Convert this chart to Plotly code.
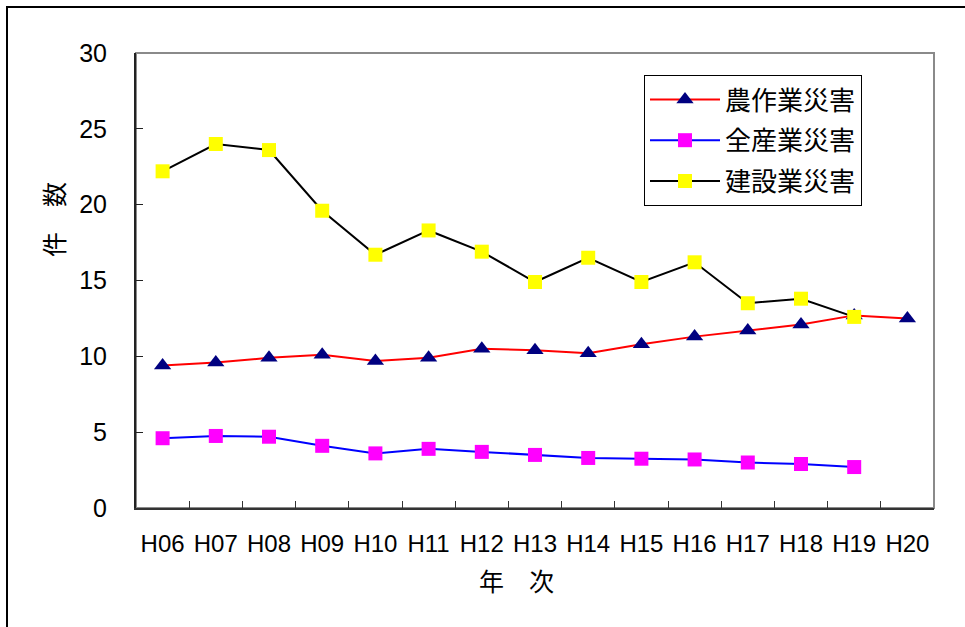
import plotly.graph_objects as go

# 年次（平成）
years = ["H06", "H07", "H08", "H09", "H10", "H11", "H12", "H13", "H14",
         "H15", "H16", "H17", "H18", "H19", "H20"]

# 農作業災害（H06〜H20）
agri = [9.4, 9.6, 9.9, 10.1, 9.7, 9.9, 10.5, 10.4, 10.2, 10.8, 11.3,
        11.7, 12.1, 12.7, 12.5]
# 全産業災害（H06〜H19）
all_ind = [4.6, 4.75, 4.7, 4.1, 3.6, 3.9, 3.7, 3.5, 3.3, 3.25, 3.2, 3.0,
           2.9, 2.7]
# 建設業災害（H06〜H19）
constr = [22.2, 24.0, 23.6, 19.6, 16.7, 18.3, 16.9, 14.9, 16.5, 14.9,
          16.2, 13.5, 13.8, 12.6]

series_names = ["農作業災害", "全産業災害", "建設業災害"]

CJK = "Noto Sans CJK JP, Noto Sans CJK SC, sans-serif"
NUM = "Liberation Sans, Arial, sans-serif"

fig = go.Figure()
fig.add_trace(go.Scatter(
    x=years, y=agri, name=series_names[0], mode="lines+markers",
    line=dict(color="#FF0000", width=2),
    marker=dict(symbol="triangle-up", size=15, color="#000080"),
    legendgroup="a"))
fig.add_trace(go.Scatter(
    x=years[:len(all_ind)], y=all_ind, name=series_names[1],
    mode="lines+markers",
    line=dict(color="#0000FF", width=2),
    marker=dict(symbol="square", size=14, color="#FF00FF"),
    legendgroup="b"))
fig.add_trace(go.Scatter(
    x=years[:len(constr)], y=constr, name=series_names[2],
    mode="lines+markers",
    line=dict(color="#000000", width=2),
    marker=dict(symbol="square", size=14, color="#FFFF00"),
    legendgroup="c"))

L, R, T, B = 136, 31, 53, 119
W, H = 965, 627
pw, ph = W - L - R, H - T - B


def px(xp):
    return (xp - L) / pw


def py(yp):
    return (H - B - yp) / ph


fig.update_layout(
    width=W, height=H,
    margin=dict(l=L, r=R, t=T, b=B, pad=0),
    paper_bgcolor="white", plot_bgcolor="white",
    showlegend=True,
    legend=dict(
        x=px(644), y=py(75), xanchor="left", yanchor="top",
        bgcolor="white", bordercolor="#000000", borderwidth=1,
        font=dict(family=CJK, size=26, color="#000000"),
        itemwidth=70, tracegroupgap=4, traceorder="grouped",
    ),
    xaxis=dict(
        type="category", range=[-0.5, len(years) - 0.5],
        showline=True, linecolor="#333333", linewidth=2,
        ticks="inside", ticklen=7, tickcolor="#333333", tickwidth=1,
        tickson="boundaries", showgrid=False, zeroline=False,
        tickangle=0,
        tickfont=dict(family=NUM, size=24, color="#000000"),
        ticklabelstandoff=13,
    ),
    yaxis=dict(
        range=[0, 30], dtick=5, tick0=0,
        showline=True, linecolor="#222222", linewidth=2,
        ticks="inside", ticklen=7, tickcolor="#222222", tickwidth=1,
        showgrid=False, zeroline=False,
        tickfont=dict(family=NUM, size=25, color="#000000"),
        ticklabelstandoff=22,
    ),
    annotations=[
        dict(text="件　数", xref="paper", yref="paper", x=px(53), y=py(220),
             xanchor="center", yanchor="middle",
             showarrow=False, textangle=-90,
             font=dict(family=CJK, size=25, color="#000000")),
        dict(text="年　次", xref="paper", yref="paper", x=px(516), y=py(580),
             xanchor="center", yanchor="middle",
             showarrow=False,
             font=dict(family=CJK, size=25, color="#000000")),
    ],
    shapes=[
        # plot area frame (top/right in grey)
        dict(type="rect", xref="paper", yref="paper", x0=0, y0=0, x1=1, y1=1,
             line=dict(color="#8a8a8a", width=2), layer="below"),
        # outer chart frame
        dict(type="rect", xref="paper", yref="paper",
             x0=px(7), y0=py(700), x1=px(1100), y1=py(7),
             line=dict(color="#000000", width=2), layer="below"),
    ],
)

fig.write_html("out.html")
